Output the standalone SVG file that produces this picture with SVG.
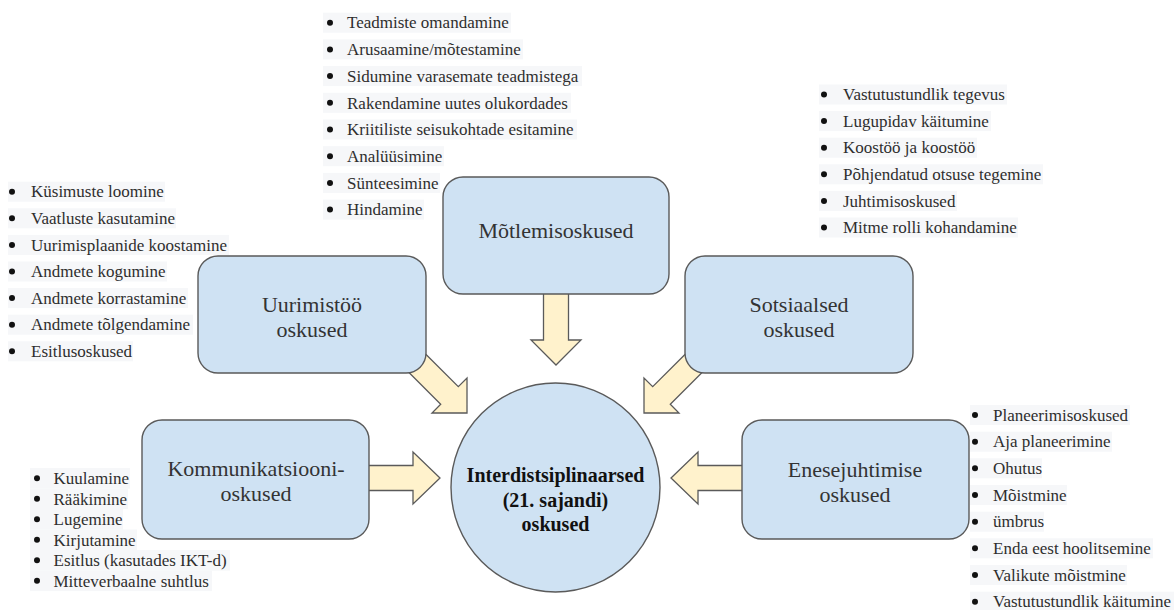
<svg xmlns="http://www.w3.org/2000/svg" width="1175" height="610" viewBox="0 0 1175 610">
<style>
.box{fill:#cfe2f3;stroke:#5a5a5a;stroke-width:1.4}
.arr{fill:#fff2cc;stroke:#5a5a5a;stroke-width:1.3;stroke-linejoin:miter}
.lbl{font-family:"Liberation Serif","Times New Roman",serif;font-size:22px;fill:#333;text-anchor:middle}
.ctr{font-family:"Liberation Serif","Times New Roman",serif;font-size:20px;font-weight:bold;fill:#111;text-anchor:middle}
.li{font-family:"Liberation Serif","Times New Roman",serif;font-size:17px;fill:#2e2e2e}
.bg{fill:#f6f7f9}
.dot{fill:#111}
</style>
<rect width="1175" height="610" fill="#ffffff"/>

<g id="connectors">
<polygon class="arr" points="543.5,290 568.5,290 568.5,340 581,340 556,365 531,340 543.5,340"/>
<polygon class="arr" points="418.8,347.2 458.3,386.7 467,378 467,413 432,413 440.7,404.3 401.2,364.8"/>
<polygon class="arr" points="692.2,347.2 652.7,386.7 644,378 644,413 679,413 670.3,404.3 709.8,364.8"/>
<polygon class="arr" points="365,465.5 413,465.5 413,452 440,478 413,504 413,490.5 365,490.5"/>
<polygon class="arr" points="746,465.5 698,465.5 698,452 671,478 698,504 698,490.5 746,490.5"/>
</g>

<g id="node-motlemis">
<rect class="box" x="443" y="177" width="226" height="117" rx="20"/>
<text class="lbl" x="556" y="238">Mõtlemisoskused</text>
</g>
<g id="node-uurimistoo">
<rect class="box" x="198" y="256" width="228" height="117" rx="20"/>
<text class="lbl" x="312" y="312">Uurimistöö</text>
<text class="lbl" x="312" y="337">oskused</text>
</g>
<g id="node-sotsiaalsed">
<rect class="box" x="685" y="256" width="228" height="117" rx="20"/>
<text class="lbl" x="799" y="312">Sotsiaalsed</text>
<text class="lbl" x="799" y="337">oskused</text>
</g>
<g id="node-kommunikatsiooni">
<rect class="box" x="142" y="420" width="227" height="119" rx="20"/>
<text class="lbl" x="256" y="476">Kommunikatsiooni-</text>
<text class="lbl" x="256" y="501">oskused</text>
</g>
<g id="node-enesejuhtimise">
<rect class="box" x="742" y="420" width="227" height="119" rx="20"/>
<text class="lbl" x="855" y="477">Enesejuhtimise</text>
<text class="lbl" x="855" y="502">oskused</text>
</g>
<g id="node-center">
<circle class="box" cx="555.5" cy="487.5" r="104.5"/>
<text class="ctr" x="555.5" y="482">Interdistsiplinaarsed</text>
<text class="ctr" x="555.5" y="507">(21. sajandi)</text>
<text class="ctr" x="555.5" y="531">oskused</text>
</g>

<g id="list-motlemis">
<rect class="bg" x="323" y="12.7" width="188" height="20"/>
<rect class="bg" x="323" y="39.4" width="200" height="20"/>
<rect class="bg" x="323" y="66.1" width="259" height="20"/>
<rect class="bg" x="323" y="92.8" width="248" height="20"/>
<rect class="bg" x="323" y="119.5" width="254" height="20"/>
<rect class="bg" x="323" y="146.2" width="121" height="20"/>
<rect class="bg" x="323" y="172.9" width="117" height="20"/>
<rect class="bg" x="323" y="199.6" width="101" height="20"/>
<circle class="dot" cx="330" cy="22.7" r="3"/>
<circle class="dot" cx="330" cy="49.4" r="3"/>
<circle class="dot" cx="330" cy="76.1" r="3"/>
<circle class="dot" cx="330" cy="102.8" r="3"/>
<circle class="dot" cx="330" cy="129.5" r="3"/>
<circle class="dot" cx="330" cy="156.2" r="3"/>
<circle class="dot" cx="330" cy="182.9" r="3"/>
<circle class="dot" cx="330" cy="209.6" r="3"/>
<text class="li" x="347" y="28.4">Teadmiste omandamine</text>
<text class="li" x="347" y="55.1">Arusaamine/mõtestamine</text>
<text class="li" x="347" y="81.8">Sidumine varasemate teadmistega</text>
<text class="li" x="347" y="108.5">Rakendamine uutes olukordades</text>
<text class="li" x="347" y="135.2">Kriitiliste seisukohtade esitamine</text>
<text class="li" x="347" y="161.9">Analüüsimine</text>
<text class="li" x="347" y="188.6">Sünteesimine</text>
<text class="li" x="347" y="215.3">Hindamine</text>
</g>

<g id="list-sotsiaalsed">
<rect class="bg" x="819" y="84.5" width="188" height="20"/>
<rect class="bg" x="819" y="111.1" width="172" height="20"/>
<rect class="bg" x="819" y="137.7" width="158" height="20"/>
<rect class="bg" x="819" y="164.3" width="224" height="20"/>
<rect class="bg" x="819" y="190.9" width="138" height="20"/>
<rect class="bg" x="819" y="217.5" width="199" height="20"/>
<circle class="dot" cx="824" cy="94.5" r="3"/>
<circle class="dot" cx="824" cy="121.1" r="3"/>
<circle class="dot" cx="824" cy="147.7" r="3"/>
<circle class="dot" cx="824" cy="174.3" r="3"/>
<circle class="dot" cx="824" cy="200.9" r="3"/>
<circle class="dot" cx="824" cy="227.5" r="3"/>
<text class="li" x="843" y="100.2">Vastutustundlik tegevus</text>
<text class="li" x="843" y="126.8">Lugupidav käitumine</text>
<text class="li" x="843" y="153.4">Koostöö ja koostöö</text>
<text class="li" x="843" y="180">Põhjendatud otsuse tegemine</text>
<text class="li" x="843" y="206.6">Juhtimisoskused</text>
<text class="li" x="843" y="233.2">Mitme rolli kohandamine</text>
</g>

<g id="list-uurimistoo">
<rect class="bg" x="8" y="181.7" width="157" height="20"/>
<rect class="bg" x="8" y="208.3" width="168" height="20"/>
<rect class="bg" x="8" y="234.9" width="221" height="20"/>
<rect class="bg" x="8" y="261.5" width="159" height="20"/>
<rect class="bg" x="8" y="288.1" width="180" height="20"/>
<rect class="bg" x="8" y="314.7" width="185" height="20"/>
<rect class="bg" x="8" y="341.3" width="125" height="20"/>
<circle class="dot" cx="12" cy="191.7" r="3"/>
<circle class="dot" cx="12" cy="218.3" r="3"/>
<circle class="dot" cx="12" cy="244.9" r="3"/>
<circle class="dot" cx="12" cy="271.5" r="3"/>
<circle class="dot" cx="12" cy="298.1" r="3"/>
<circle class="dot" cx="12" cy="324.7" r="3"/>
<circle class="dot" cx="12" cy="351.3" r="3"/>
<text class="li" x="31" y="197.4">Küsimuste loomine</text>
<text class="li" x="31" y="224">Vaatluste kasutamine</text>
<text class="li" x="31" y="250.6">Uurimisplaanide koostamine</text>
<text class="li" x="31" y="277.2">Andmete kogumine</text>
<text class="li" x="31" y="303.8">Andmete korrastamine</text>
<text class="li" x="31" y="330.4">Andmete tõlgendamine</text>
<text class="li" x="31" y="357">Esitlusoskused</text>
</g>

<g id="list-kommunikatsiooni">
<rect class="bg" x="30" y="468" width="100" height="20.6"/>
<rect class="bg" x="30" y="488.5" width="98" height="20.6"/>
<rect class="bg" x="30" y="509" width="93" height="20.6"/>
<rect class="bg" x="30" y="529.5" width="107" height="20.6"/>
<rect class="bg" x="30" y="550" width="200" height="20.6"/>
<rect class="bg" x="30" y="570.5" width="182" height="20.6"/>
<circle class="dot" cx="37" cy="478.3" r="3"/>
<circle class="dot" cx="37" cy="498.8" r="3"/>
<circle class="dot" cx="37" cy="519.3" r="3"/>
<circle class="dot" cx="37" cy="539.8" r="3"/>
<circle class="dot" cx="37" cy="560.3" r="3"/>
<circle class="dot" cx="37" cy="580.8" r="3"/>
<text class="li" x="53.5" y="484">Kuulamine</text>
<text class="li" x="53.5" y="504.5">Rääkimine</text>
<text class="li" x="53.5" y="525">Lugemine</text>
<text class="li" x="53.5" y="545.5">Kirjutamine</text>
<text class="li" x="53.5" y="566">Esitlus (kasutades IKT-d)</text>
<text class="li" x="53.5" y="586.5">Mitteverbaalne suhtlus</text>
</g>

<g id="list-enesejuhtimise">
<rect class="bg" x="970" y="405" width="160" height="20"/>
<rect class="bg" x="970" y="431.7" width="142" height="20"/>
<rect class="bg" x="970" y="458.3" width="72" height="20"/>
<rect class="bg" x="970" y="485" width="97" height="20"/>
<rect class="bg" x="970" y="511.7" width="74" height="20"/>
<rect class="bg" x="970" y="538.3" width="183" height="20"/>
<rect class="bg" x="970" y="565" width="157" height="20"/>
<rect class="bg" x="970" y="591.7" width="204" height="20"/>
<circle class="dot" cx="975" cy="415" r="3"/>
<circle class="dot" cx="975" cy="441.7" r="3"/>
<circle class="dot" cx="975" cy="468.3" r="3"/>
<circle class="dot" cx="975" cy="495" r="3"/>
<circle class="dot" cx="975" cy="521.7" r="3"/>
<circle class="dot" cx="975" cy="548.3" r="3"/>
<circle class="dot" cx="975" cy="575" r="3"/>
<circle class="dot" cx="975" cy="601.7" r="3"/>
<text class="li" x="993" y="420.7">Planeerimisoskused</text>
<text class="li" x="993" y="447.4">Aja planeerimine</text>
<text class="li" x="993" y="474">Ohutus</text>
<text class="li" x="993" y="500.7">Mõistmine</text>
<text class="li" x="993" y="527.4">ümbrus</text>
<text class="li" x="993" y="554">Enda eest hoolitsemine</text>
<text class="li" x="993" y="580.7">Valikute mõistmine</text>
<text class="li" x="993" y="607.4">Vastutustundlik käitumine</text>
</g>
</svg>
